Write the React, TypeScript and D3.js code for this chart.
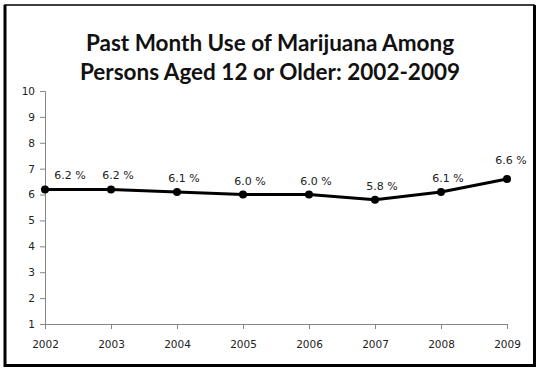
import React, { useEffect, useRef } from "react";
import * as d3 from "d3";

const years = ["2002", "2003", "2004", "2005", "2006", "2007", "2008", "2009"];
const usePct = [6.2, 6.2, 6.1, 6.0, 6.0, 5.8, 6.1, 6.6];
const yTicks = [1, 2, 3, 4, 5, 6, 7, 8, 9, 10];
const titleLines = ["Past Month Use of Marijuana Among", "Persons Aged 12 or Older: 2002-2009"];

const W = 542;
const H = 374;

const App = () => {
  const ref = useRef<SVGGElement>(null);

  useEffect(() => {
    const g = d3.select(ref.current);
    g.selectAll("*").remove();

    const x = d3.scalePoint<string>().domain(years).range([45, 507]);
    const y = d3.scaleLinear().domain([1, 10]).range([324, 91]);
    const axisColor = "#868686";
    const tickFont = "'DejaVu Sans', Verdana, sans-serif";

    // frame
    g.append("rect")
      .attr("x", 5).attr("y", 5)
      .attr("width", 529).attr("height", 360)
      .attr("fill", "#fff")
      .attr("stroke", "#000")
      .attr("stroke-width", 1.5);
    g.append("path")
      .attr("d", "M5,5 V365.5 H534.5 V5")
      .attr("fill", "none")
      .attr("stroke", "#000")
      .attr("stroke-width", 3);

    // title
    g.append("g")
      .selectAll("text")
      .data(titleLines)
      .join("text")
      .attr("x", 270)
      .attr("y", (d, i) => 51 + i * 29)
      .attr("text-anchor", "middle")
      .style("font-family", "Lato, 'Open Sans', sans-serif")
      .style("font-weight", 700)
      .style("font-size", "22.5px")
      .attr("fill", "#111")
      .text(d => d);

    // y axis
    const yAxis = g.append("g")
      .attr("transform", "translate(45,0)")
      .call(d3.axisLeft(y).tickValues(yTicks).tickSize(5).tickPadding(5).tickFormat(d3.format("d")));
    yAxis.select(".domain").attr("stroke", axisColor);
    yAxis.selectAll(".tick line").attr("stroke", axisColor);
    yAxis.selectAll(".tick text")
      .attr("fill", "#222")
      .style("font-family", tickFont)
      .style("font-size", "10.5px");

    // x axis
    const xAxis = g.append("g")
      .attr("transform", "translate(0,324)")
      .call(d3.axisBottom(x).tickSize(5).tickPadding(12));
    xAxis.select(".domain").attr("stroke", axisColor).attr("d", "M45,0.5H507");
    xAxis.selectAll(".tick line").attr("stroke", axisColor);
    xAxis.selectAll(".tick text")
      .attr("fill", "#222")
      .style("font-family", tickFont)
      .style("font-size", "10.5px");

    // line
    const line = d3.line<number>()
      .x((d, i) => x(years[i]) as number)
      .y(d => y(d));

    g.append("path")
      .datum(usePct)
      .attr("d", line)
      .attr("fill", "none")
      .attr("stroke", "#000")
      .attr("stroke-width", 3)
      .attr("stroke-linejoin", "round");

    g.append("g")
      .selectAll("circle")
      .data(usePct)
      .join("circle")
      .attr("cx", (d, i) => x(years[i]) as number)
      .attr("cy", d => y(d))
      .attr("r", 4)
      .attr("fill", "#000");

    // data labels
    g.append("g")
      .selectAll("text")
      .data(usePct)
      .join("text")
      .attr("x", (d, i) => (x(years[i]) as number) + (i === 0 ? 25 : i === years.length - 1 ? 4 : 7))
      .attr("y", (d, i) => y(d) - (i === years.length - 1 ? 15 : 10))
      .attr("text-anchor", "middle")
      .attr("fill", "#222")
      .style("font-family", tickFont)
      .style("font-size", "11px")
      .text(d => `${d.toFixed(1)} %`);
  }, []);

  return (
    <svg width={W} height={H} style={{ position: "absolute", left: 0, top: 0 }}>
      <g ref={ref} />
    </svg>
  );
};

export default App;
